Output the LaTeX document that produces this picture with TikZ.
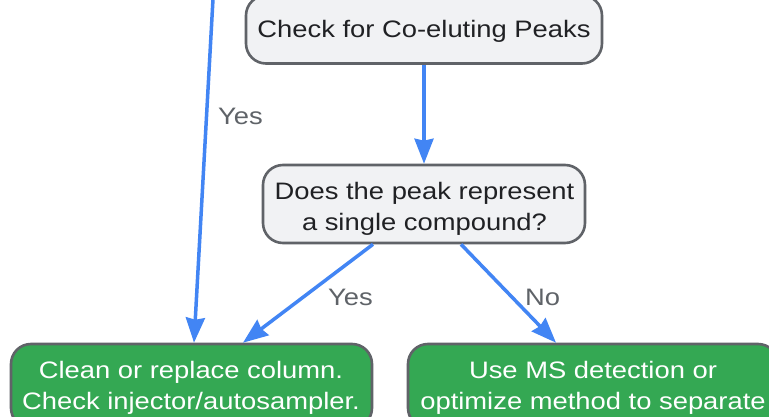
\documentclass[tikz,border=0pt]{standalone}
\usepackage{fontspec}
\setmainfont[FakeStretch=1.15]{Liberation Sans}
\usetikzlibrary{arrows.meta,calc}
\definecolor{arrowblue}{HTML}{4285F4}
\definecolor{boxgrey}{HTML}{F1F2F4}
\definecolor{edgegrey}{HTML}{606368}
\definecolor{okgreen}{HTML}{34A853}
\definecolor{txtdark}{HTML}{202124}
\definecolor{lblgrey}{HTML}{5F6368}
\tikzset{
  base/.style={draw=edgegrey, line width=2.6pt, rounded corners=20pt, inner sep=0pt},
  greybox/.style={base, fill=boxgrey},
  greenbox/.style={base, fill=okgreen},
  txt/.style={anchor=base, inner sep=0pt, font=\fontsize{23.8}{30}\selectfont},
  darktxt/.style={txt, text=txtdark},
  whitetxt/.style={txt, text=white},
  lbl/.style={txt, text=lblgrey},
  conn/.style={draw=arrowblue, line width=3.5pt, -{Stealth[length=25pt,width=19pt,inset=2pt]}}
}
\begin{document}
\begin{tikzpicture}[x=1pt,y=-1pt]
\useasboundingbox (0,0) rectangle (769,417);
\clip (0,0) rectangle (769,417);
\fill[white] (0,0) rectangle (769,417);
% boxes
\node[greybox, minimum width=356pt, minimum height=68pt] (check) at (424,29.5) {};
\node[greybox, minimum width=322pt, minimum height=78pt] (dec) at (424,204) {};
\node[greenbox, minimum width=361pt, minimum height=84pt] (clean) at (191.5,386) {};
\node[greenbox, minimum width=370pt, minimum height=84pt] (ms) at (593,386) {};
% texts
\node[darktxt] (check-t) at (424,38) {Check for Co-eluting Peaks};
\node[darktxt] (dec-t1) at (424.5,200) {Does the peak represent};
\node[darktxt] (dec-t2) at (424.5,230) {a single compound?};
\node[whitetxt] (clean-t1) at (191,378) {Clean or replace column.};
\node[whitetxt] (clean-t2) at (191,409.5) {Check injector/autosampler.};
\node[whitetxt] (ms-t1) at (593,378) {Use MS detection or};
\node[whitetxt] (ms-t2) at (593,409.5) {optimize method to separate};
% connectors
\coordinate (from) at (213.5,-10);
\draw[conn] (check.south) -- (dec.north);
\draw[conn] (from) -- ($(clean.north)+(2.5,0)$);
\draw[conn] ($(dec.south)+(-51,0)$) -- ($(clean.north)+(51.5,0)$);
\draw[conn] ($(dec.south)+(37,0)$) -- ($(ms.north)+(-37,0)$);
% labels
\node[lbl] (y1) at (240.5,125) {Yes};
\node[lbl] (y2) at (350.5,305) {Yes};
\node[lbl] (n1) at (542.5,305) {No};
\end{tikzpicture}
\end{document}
